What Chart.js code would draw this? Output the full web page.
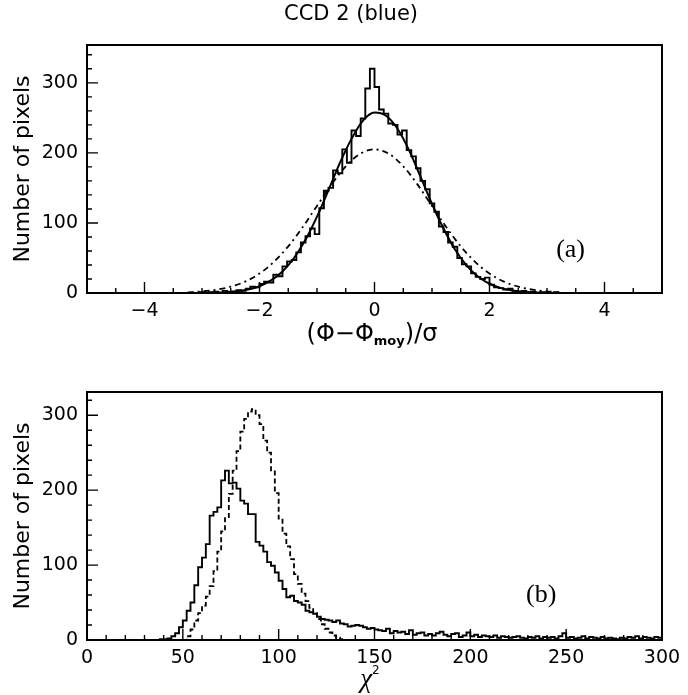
<!DOCTYPE html>
<html>
<head>
<meta charset="utf-8">
<script src="https://cdn.jsdelivr.net/npm/chart.js@4.4.0/dist/chart.umd.min.js"></script>
<style>
  html, body { margin: 0; padding: 0; background: #fff; }
  #wrap { position: relative; width: 688px; height: 695px; }
  canvas { position: absolute; left: 0; }
  #top { top: 0; }
  #bottom { top: 350px; }
</style>
</head>
<body>
<div id="wrap">
  <canvas id="top" width="688" height="350"></canvas>
  <canvas id="bottom" width="688" height="345"></canvas>
</div>
<script>
// ---- panel (a): normalised residuals ----
const phiTicks = [-4, -2, 0, 2, 4]
const countTicksA = [0, 100, 200, 300]
const phiBinStart = -3.2
const phiBinWidth = 0.08
const phiCounts = [
  0, 0, 1, 0, 1, 2, 0, 3, 1, 2,
  4, 3, 6, 9, 8, 13, 16, 15, 26, 24,
  38, 45, 47, 58, 72, 81, 92, 84, 121, 146,
  150, 175, 171, 205, 186, 232, 224, 249, 292, 320,
  294, 262, 256, 242, 240, 226, 232, 204, 195, 178,
  160, 148, 128, 116, 95, 87, 72, 66, 50, 41,
  38, 28, 23, 20, 22, 12, 8, 7, 5, 6,
  3, 2, 3, 1, 2, 0, 1, 0, 0, 1
]
// gaussian fit (solid)
const fitX = [-3.0, -2.8, -2.6, -2.4, -2.2, -2.0, -1.8, -1.6, -1.4, -1.2, -1.0, -0.8, -0.6, -0.4, -0.2,
  0, 0.2, 0.4, 0.6, 0.8, 1.0, 1.2, 1.4, 1.6, 1.8, 2.0, 2.2, 2.4, 2.6, 2.8, 3.0]
const fitSolid = [0.2, 0.45, 1.1, 2.4, 5.0, 9.7, 17.9, 30.8, 50, 76, 109, 147, 186, 220, 246,
  257.5, 253, 234.5, 204, 166, 127, 92, 62, 39.5, 23.6, 13.2, 7.0, 3.45, 1.6, 0.7, 0.3]
// unit-width gaussian (dash-dot)
const wideX = [-3.25, -3.0, -2.75, -2.5, -2.25, -2.0, -1.75, -1.5, -1.25, -1.0, -0.75, -0.5, -0.25,
  0, 0.25, 0.5, 0.75, 1.0, 1.25, 1.5, 1.75, 2.0, 2.25, 2.5, 2.75, 3.0, 3.25]
const wideFit = [1.0, 2.3, 4.7, 9.0, 16.3, 27.7, 44.4, 66.6, 93.8, 124.3, 154.7, 180.9, 198.7,
  205, 198.7, 180.9, 154.7, 124.3, 93.8, 66.6, 44.4, 27.7, 16.3, 9.0, 4.7, 2.3, 1.0]

// ---- panel (b): chi2 ----
const chiTicks = [0, 50, 100, 150, 200, 250, 300]
const countTicksB = [0, 100, 200, 300]
const chiBinWidth = 2
const chiDataStart = 30
const chiData = [
  0, 0, 0, 0,
  1, 1, 2, 5, 9, 17,
  26, 39, 50, 73, 97, 110, 128, 166, 171, 177,
  213, 226, 209, 210, 202, 186, 182, 168, 168, 131,
  126, 118, 104, 99, 90, 79, 68, 57, 59, 52,
  50, 47, 39, 37, 35, 31, 28, 27, 26, 24,
  26, 22, 21, 18, 19, 20, 19, 17, 15, 16,
  14, 13, 12, 15, 9, 12, 10, 11, 8, 13,
  7, 9, 10, 6, 8, 6, 9, 11, 7, 5,
  8, 9, 4, 6, 10, 5, 7, 4, 6, 5,
  4, 6, 3, 5, 4, 3, 4, 5, 3, 2,
  4, 3, 5, 2, 4, 3, 4, 2, 5, 9,
  3, 4, 2, 3, 5, 2, 4, 3, 2, 4,
  2, 3, 2, 1, 3, 2, 4, 3, 5, 2, 4, 3, 2, 4, 3
]
const chiExpStart = 50
const chiExpected = [
  0, 5, 14, 26, 36, 46, 58, 72, 92, 118,
  145, 164, 195, 226, 252, 278, 295, 305, 308, 300,
  288, 266, 250, 225, 196, 162, 142, 125, 108, 88,
  75, 62, 52, 43, 36, 28, 21, 15, 10, 6,
  3, 1
]

const FONT = 'DejaVu Sans'

function stepPoints(start, width, counts) {
  const pts = [{ x: start, y: 0 }]
  counts.forEach((c, i) => pts.push({ x: start + i * width, y: c }))
  pts.push({ x: start + counts.length * width, y: 0 })
  return pts
}
function curvePoints(xs, ys) {
  return xs.map((x, i) => ({ x, y: ys[i] }))
}
function fmt(v) {
  return v < 0 ? '\u2212' + Math.abs(v) : String(v)
}

function drawParts(ctx, parts, cx, baseline) {
  let total = 0
  parts.forEach(p => { ctx.font = p.font; p.w = ctx.measureText(p.t).width; total += p.w })
  let x = cx - total / 2
  ctx.textAlign = 'left'
  ctx.textBaseline = 'alphabetic'
  parts.forEach(p => {
    ctx.font = p.font
    ctx.fillText(p.t, x, baseline + (p.dy || 0))
    x += p.w
  })
}

const framePlugin = {
  id: 'frame',
  afterDatasetsDraw(chart, args, o) {
    const { ctx, chartArea: a } = chart
    const x = chart.scales.x, y = chart.scales.y
    ctx.save()
    ctx.strokeStyle = '#000'
    ctx.fillStyle = '#000'
    ctx.lineWidth = 2
    ctx.strokeRect(a.left, a.top, a.right - a.left, a.bottom - a.top)
    ctx.lineWidth = 1.4
    ctx.beginPath()
    const nx = Math.round((x.max - x.min) / o.xMinor)
    for (let i = 0; i <= nx; i++) {
      const v = x.min + i * o.xMinor
      const r = v / o.xMajor
      const len = Math.abs(r - Math.round(r)) < 1e-6 ? 11 : 5
      const px = x.getPixelForValue(v)
      ctx.moveTo(px, a.bottom)
      ctx.lineTo(px, a.bottom - len)
    }
    const ny = Math.floor(y.max / o.yMinor)
    for (let i = 0; i <= ny; i++) {
      const v = i * o.yMinor
      const len = v % o.yMajor === 0 ? 11 : 5
      const py = y.getPixelForValue(v)
      ctx.moveTo(a.left, py)
      ctx.lineTo(a.left + len, py)
    }
    ctx.stroke()

    // panel label
    ctx.font = o.tagFont
    ctx.textAlign = 'center'
    ctx.textBaseline = 'middle'
    ctx.fillText(o.tag, x.getPixelForValue(o.tagAt[0]), y.getPixelForValue(o.tagAt[1]))

    // x axis title with sub/superscripts
    drawParts(ctx, o.xTitle, o.xTitleAt[0], o.xTitleAt[1])

    if (o.title) {
      ctx.font = '21px "' + FONT + '"'
      ctx.textAlign = 'center'
      ctx.textBaseline = 'middle'
      ctx.fillText(o.title, o.titleAt[0], o.titleAt[1])
    }
    ctx.restore()
  }
}

function makeScales(xMin, xMax, xTicks, yMax, yTicks, xHeight) {
  const tickFont = { family: FONT, size: 19 }
  return {
    x: {
      type: 'linear', min: xMin, max: xMax,
      grid: { display: false, drawTicks: false }, border: { display: false },
      afterBuildTicks: s => { s.ticks = xTicks.map(v => ({ value: v })) },
      afterFit: s => { s.height = xHeight },
      ticks: { padding: 7, color: '#000', font: tickFont, maxRotation: 0, autoSkip: false, callback: v => fmt(v) }
    },
    y: {
      type: 'linear', min: 0, max: yMax,
      grid: { display: false, drawTicks: false }, border: { display: false },
      afterBuildTicks: s => { s.ticks = yTicks.map(v => ({ value: v })) },
      afterFit: s => { s.width = 87 },
      ticks: { padding: 9, color: '#000', font: tickFont, autoSkip: false },
      title: { display: true, text: 'Number of pixels', color: '#000', font: { family: FONT, size: 22 }, padding: { top: 10, bottom: 0 } }
    }
  }
}

new Chart(document.getElementById('top'), {
  type: 'line',
  data: {
    datasets: [
      { data: stepPoints(phiBinStart, phiBinWidth, phiCounts), stepped: 'before', borderColor: '#000', borderWidth: 1.9, pointRadius: 0 },
      { data: curvePoints(fitX, fitSolid), cubicInterpolationMode: 'monotone', borderColor: '#000', borderWidth: 2, pointRadius: 0 },
      { data: curvePoints(wideX, wideFit), cubicInterpolationMode: 'monotone', borderColor: '#000', borderWidth: 1.8, borderDash: [6, 4, 2, 4], pointRadius: 0 }
    ]
  },
  options: {
    responsive: false,
    animation: false,
    layout: { padding: { top: 45, right: 26, left: 0, bottom: 0 } },
    plugins: {
      legend: { display: false },
      tooltip: { enabled: false },
      frame: {
        xMinor: 0.5, xMajor: 2, yMinor: 20, yMajor: 100,
        tag: '(a)', tagAt: [3.41, 61], tagFont: '26px "Liberation Serif"',
        title: 'CCD 2 (blue)', titleAt: [351, 15],
        xTitleAt: [372, 341],
        xTitle: [
          { t: '(\u03A6\u2212\u03A6', font: '24px "' + FONT + '"' },
          { t: 'moy', font: 'bold 13px "' + FONT + '"', dy: 4 },
          { t: ')/\u03C3', font: '24px "' + FONT + '"' }
        ]
      }
    },
    scales: makeScales(-5, 5, phiTicks, 354, countTicksA, 57)
  },
  plugins: [framePlugin]
})

new Chart(document.getElementById('bottom'), {
  type: 'line',
  data: {
    datasets: [
      { data: stepPoints(chiDataStart, chiBinWidth, chiData), stepped: 'before', borderColor: '#000', borderWidth: 1.9, pointRadius: 0 },
      { data: stepPoints(chiExpStart, chiBinWidth, chiExpected), stepped: 'before', borderColor: '#000', borderWidth: 1.8, borderDash: [5, 3], pointRadius: 0 }
    ]
  },
  options: {
    responsive: false,
    animation: false,
    layout: { padding: { top: 42, right: 26, left: 0, bottom: 0 } },
    plugins: {
      legend: { display: false },
      tooltip: { enabled: false },
      frame: {
        xMinor: 10, xMajor: 50, yMinor: 20, yMajor: 100,
        tag: '(b)', tagAt: [237, 60], tagFont: '26px "Liberation Serif"',
        xTitleAt: [370, 337],
        xTitle: [
          { t: '\u03C7', font: 'italic 27px "Liberation Serif"' },
          { t: '2', font: '12px "' + FONT + '"', dy: -13 }
        ]
      }
    },
    scales: makeScales(0, 300, chiTicks, 331, countTicksB, 55)
  },
  plugins: [framePlugin]
})
</script>
</body>
</html>
